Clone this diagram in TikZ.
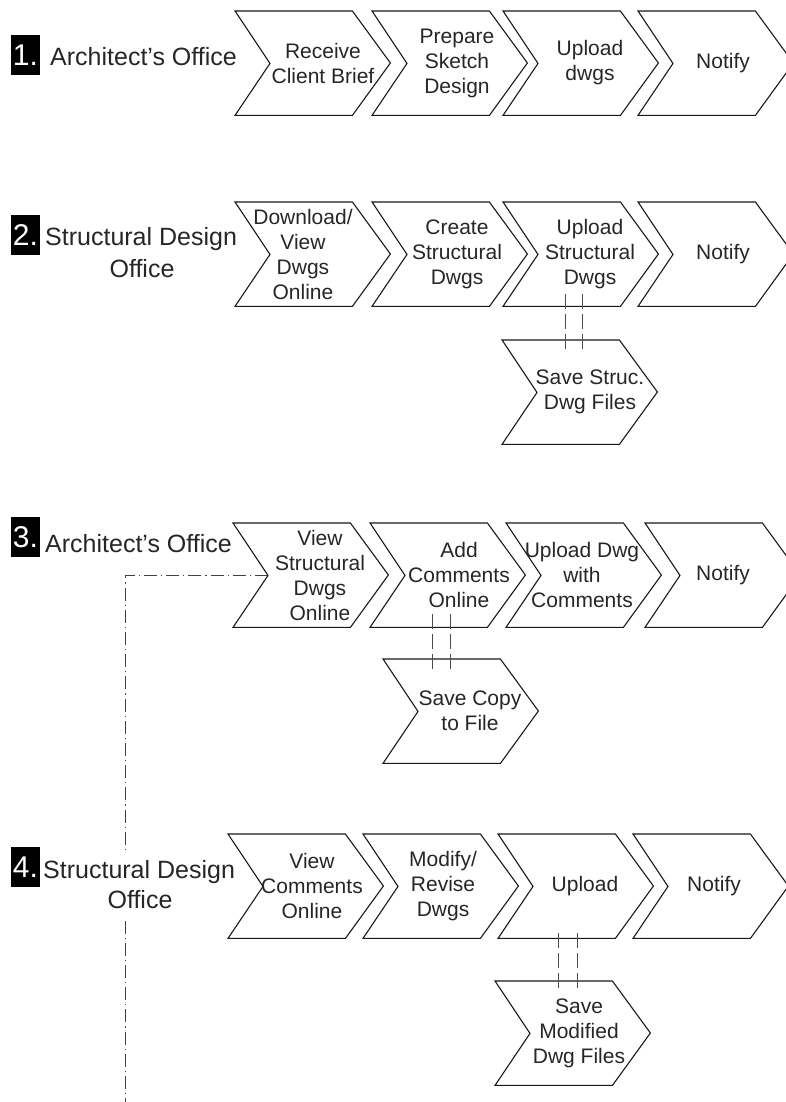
\documentclass[tikz,border=0pt]{standalone}
\usepackage{fontspec}
\setmainfont{Liberation Sans}
\usetikzlibrary{calc}

\tikzset{
  chevbody/.style={rectangle, inner sep=0pt, minimum width=117pt, minimum height=104pt, anchor=north west},
  chevline/.style={draw=black!90, line width=1.1pt, line join=miter},
  chevtext/.style={align=center, text=black!85, font=\fontsize{21}{25}\selectfont, inner sep=0pt},
  lanelabel/.style={text=black!85, font=\fontsize{25}{30}\selectfont, inner sep=0pt},
  numbox/.style={fill=black, text=white, font=\fontsize{30}{30}\selectfont, minimum width=29pt, minimum height=40pt, inner sep=0pt},
  filelink/.style={draw=black!70, line width=0.9pt, dash pattern=on 15pt off 5pt},
  reviewlink/.style={draw=black!75, line width=0.9pt, dash pattern=on 13pt off 4pt on 1.2pt off 4pt},
}

% #1 name, #2 left edge, #3 top edge, #4 text centre x, #5 text
\newcommand\chevstage[5]{%
  \node[chevbody] (#1) at (#2,#3) {};
  \draw[chevline] (#1.north west) -- (#1.north east) -- ++(38,52) -- (#1.south east)
    -- (#1.south west) -- ++(35,-52) -- cycle;
  \node[chevtext] (#1-txt) at (#4,#3+52) {#5};
}

% #1 upper stage, #2 file stage, #3/#4 offsets of the two lines, #5 start above, #6 end below
\newcommand\savelink[6]{%
  \coordinate (#1-#2-a) at ($(#1.south west)+(#3,-#5)$);
  \coordinate (#1-#2-b) at ($(#1.south west)+(#4,-#5)$);
  \coordinate (#1-#2-e) at ($(#2.north west)+(0,#6)$);
  \draw[filelink] (#1-#2-a) -- (#1-#2-a |- #1-#2-e);
  \draw[filelink] (#1-#2-b) -- (#1-#2-b |- #1-#2-e);
}

\begin{document}
\begin{tikzpicture}[x=1pt, y=-1pt]
\useasboundingbox (0,0) rectangle (785,1102);

% end of the review path back from stage 4
\coordinate (reviewend) at (125,1102);

% lane 1
\node[numbox] (n1) at (25.5,55) {1.};
\node[lanelabel, anchor=base west] (l1) at (50,66) {Architect’s Office};
\chevstage{c11}{235}{11}{323}{Receive\\Client Brief}
\chevstage{c12}{372}{11}{457}{Prepare\\Sketch\\Design}
\chevstage{c13}{503}{11}{590}{Upload\\dwgs}
\chevstage{c14}{638}{11}{723}{Notify}

% lane 2
\node[numbox] (n2) at (25.5,235) {2.};
\node[lanelabel, anchor=base west] (l2) at (45,245) {Structural Design};
\node[lanelabel, anchor=base] (l2b) at (142,277) {Office};
\chevstage{c21}{235}{202}{303}{Download/\\View\\Dwgs\\Online}
\chevstage{c22}{372}{202}{457}{Create\\Structural\\Dwgs}
\chevstage{c23}{503}{202}{590}{Upload\\Structural\\Dwgs}
\chevstage{c24}{638}{202}{723}{Notify}
\chevstage{s2}{502}{340}{590}{Save Struc.\\Dwg Files}
\savelink{c23}{s2}{62}{79}{12}{13}

% lane 3
\node[numbox] (n3) at (25.5,537) {3.};
\node[lanelabel, anchor=base west] (l3) at (45,552) {Architect’s Office};
\chevstage{c31}{233}{523}{320}{View\\Structural\\Dwgs\\Online}
\chevstage{c32}{370}{523}{459}{Add\\Comments\\Online}
\chevstage{c33}{506}{523}{582}{Upload Dwg\\with\\Comments}
\chevstage{c34}{645}{523}{723}{Notify}
\chevstage{s3}{383}{659}{470}{Save Copy\\to File}
\savelink{c32}{s3}{62}{80}{13}{13}

\draw[reviewlink] ($(c31.west)+(35,0)$) -| (reviewend);

% lane 4
\node[numbox] (n4) at (25.5,867) {4.};
\node[lanelabel, anchor=base west, fill=white, inner ysep=6pt] (l4) at (43,878) {Structural Design};
\node[lanelabel, anchor=base, fill=white, inner ysep=12pt] (l4b) at (140,908) {Office};
\chevstage{c41}{228}{834}{312}{View\\Comments\\Online}
\chevstage{c42}{363}{834}{443}{Modify/\\Revise\\Dwgs}
\chevstage{c43}{498}{834}{585}{Upload}
\chevstage{c44}{633}{834}{714}{Notify}
\chevstage{s4}{495}{981}{579}{Save\\Modified\\Dwg Files}
\savelink{c43}{s4}{60}{79}{5}{12}
\end{tikzpicture}
\end{document}
